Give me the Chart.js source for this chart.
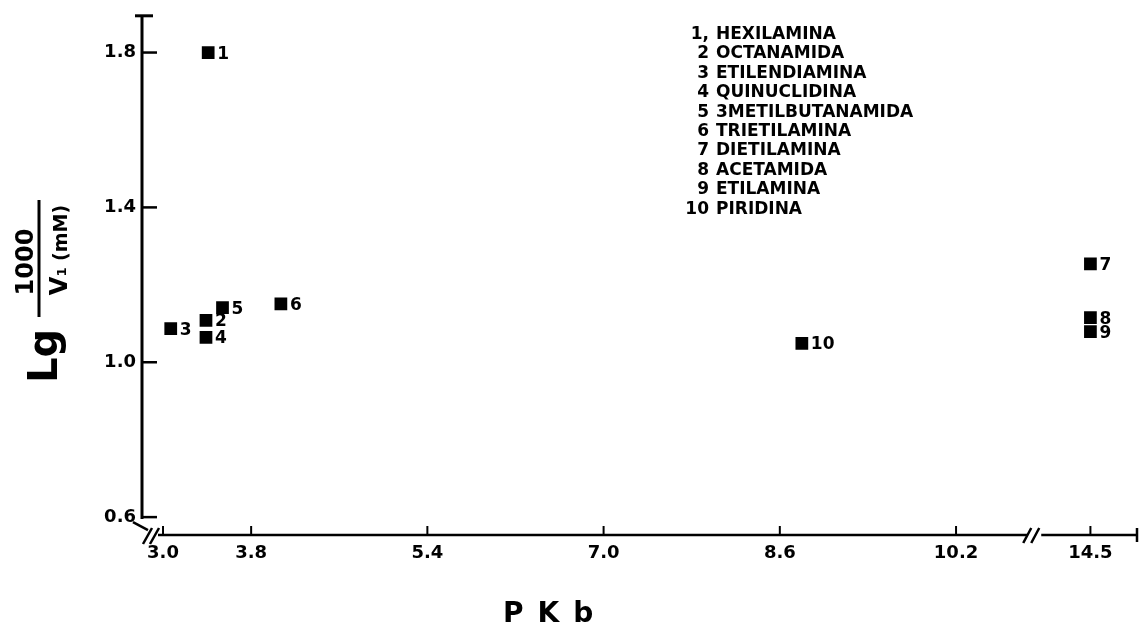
<!DOCTYPE html>
<html>
<head>
<meta charset="utf-8">
<title>Lg 1000/V1 vs PKb</title>
<script src="https://cdn.jsdelivr.net/npm/chart.js@4.4.1/dist/chart.umd.min.js"></script>
<style>
  html, body { margin: 0; padding: 0; background: #ffffff; }
  canvas { display: block; }
</style>
</head>
<body>
<canvas id="chart" width="1140" height="625"></canvas>
<script>
// Compounds: number, name, pKb and Lg(1000/V1)
const compoundNumbers = ['1', '2', '3', '4', '5', '6', '7', '8', '9', '10'];
const compoundNames = [
  'HEXILAMINA', 'OCTANAMIDA', 'ETILENDIAMINA', 'QUINUCLIDINA', '3METILBUTANAMIDA',
  'TRIETILAMINA', 'DIETILAMINA', 'ACETAMIDA', 'ETILAMINA', 'PIRIDINA'
];
const pKbValues = [3.41, 3.39, 3.07, 3.39, 3.54, 4.07, 14.5, 14.5, 14.5, 8.80];
const lgValues  = [1.80, 1.108, 1.087, 1.064, 1.141, 1.151, 1.254, 1.115, 1.079, 1.049];

const xTickValues = [3.0, 3.8, 5.4, 7.0, 8.6, 10.2, 14.5];
const yTickValues = [0.6, 1.0, 1.4, 1.8];

// The pKb axis is broken after 10.2: values beyond the break are pulled left.
const BREAK_AT = 11;
const BREAK_SHIFT = 3.08;
const toAxis = v => (v > BREAK_AT ? v - BREAK_SHIFT : v);

const FONT = "'DejaVu Sans', 'Liberation Sans', sans-serif";
const INK = '#000000';

const points = pKbValues.map((v, i) => ({ x: toAxis(v), y: lgValues[i] }));

function line(ctx, x1, y1, x2, y2, w) {
  ctx.beginPath();
  ctx.lineWidth = w;
  ctx.moveTo(x1, y1);
  ctx.lineTo(x2, y2);
  ctx.stroke();
}

// Draws runs of text along a vertical baseline, reading bottom to top.
function rotatedRuns(ctx, runs, baseX, centerY) {
  ctx.save();
  ctx.translate(baseX, centerY);
  ctx.rotate(-Math.PI / 2);
  ctx.textAlign = 'left';
  ctx.textBaseline = 'alphabetic';
  let total = 0;
  runs.forEach(r => { ctx.font = r.font; r.w = ctx.measureText(r.text).width; total += r.w; });
  let x = -total / 2;
  runs.forEach(r => {
    ctx.font = r.font;
    ctx.fillText(r.text, x, r.dy || 0);
    x += r.w;
  });
  ctx.restore();
}

const decorations = {
  id: 'decorations',
  beforeDatasetsDraw(chart) {
    const ctx = chart.ctx;
    const xs = chart.scales.x;
    const ys = chart.scales.y;
    const area = chart.chartArea;
    const axisX = area.left + 1;
    const axisY = area.bottom;

    ctx.save();
    ctx.strokeStyle = INK;
    ctx.fillStyle = INK;
    ctx.lineCap = 'butt';

    // vertical axis with top cap
    const y06 = ys.getPixelForValue(yTickValues[0]);
    line(ctx, axisX, area.top, axisX, y06 + 2, 3);
    line(ctx, axisX - 7, area.top, axisX + 11, area.top, 3);
    ys.ticks.forEach(t => {
      const py = ys.getPixelForValue(t.value);
      line(ctx, axisX, py, axisX + 15, py, 2.5);
    });

    // break marks at the origin
    line(ctx, axisX - 9, y06 + 5, axisX + 6, y06 + 13, 2.5);
    line(ctx, axisX + 1, axisY + 9, axisX + 10, axisY - 7, 2.5);
    line(ctx, axisX + 8, axisY + 9, axisX + 17, axisY - 7, 2.5);

    // horizontal axis, broken before the last tick
    const breakPx = (xs.getPixelForValue(xTickValues[5]) + xs.getPixelForValue(toAxis(xTickValues[6]))) / 2 + 8;
    line(ctx, axisX + 16, axisY, breakPx - 4, axisY, 2.5);
    line(ctx, breakPx + 10, axisY, area.right - 1, axisY, 2.5);
    line(ctx, breakPx - 8, axisY + 8, breakPx, axisY - 7, 2.5);
    line(ctx, breakPx, axisY + 8, breakPx + 8, axisY - 7, 2.5);
    line(ctx, area.right - 1, axisY - 7, area.right - 1, axisY + 7, 2.5);
    xs.ticks.forEach(t => {
      const px = xs.getPixelForValue(t.value);
      line(ctx, px, axisY, px, axisY - 9, 2);
    });

    // axis titles
    ctx.font = 'bold 28px ' + FONT;
    ctx.textAlign = 'left';
    ctx.textBaseline = 'alphabetic';
    ctx.letterSpacing = '14px';
    ctx.fillText('PKb', 503, 622);
    ctx.letterSpacing = '0px';

    rotatedRuns(ctx, [{ text: 'Lg', font: 'bold 40px ' + FONT }], 57, 356);
    rotatedRuns(ctx, [{ text: '1000', font: 'bold 24px ' + FONT }], 33, 262);
    line(ctx, 39, 200, 39, 317, 3);
    rotatedRuns(ctx, [
      { text: 'V', font: 'bold 24px ' + FONT },
      { text: '1', font: 'bold 13px ' + FONT, dy: -1 },
      { text: ' (mM)', font: 'bold 19px ' + FONT }
    ], 67, 250);

    // compound list
    ctx.font = 'bold 17px ' + FONT;
    compoundNames.forEach((name, i) => {
      const cy = 33 + i * 19.4 + 6;
      ctx.textAlign = 'right';
      ctx.fillText(compoundNumbers[i] + (i === 0 ? ',' : ''), 709, cy);
      ctx.textAlign = 'left';
      ctx.fillText(name, 716, cy);
    });
    ctx.restore();
  },
  afterDatasetsDraw(chart) {
    // number beside each marker
    const ctx = chart.ctx;
    const meta = chart.getDatasetMeta(0);
    ctx.save();
    ctx.fillStyle = INK;
    ctx.font = 'bold 17px ' + FONT;
    ctx.textAlign = 'left';
    ctx.textBaseline = 'alphabetic';
    meta.data.forEach((el, i) => {
      ctx.fillText(compoundNumbers[i], el.x + 9, el.y + 6);
    });
    ctx.restore();
  }
};

new Chart(document.getElementById('chart'), {
  type: 'scatter',
  data: {
    datasets: [{
      data: points,
      pointStyle: 'rect',
      pointRadius: 9,
      pointHoverRadius: 9,
      backgroundColor: INK,
      borderWidth: 0
    }]
  },
  options: {
    responsive: false,
    animation: false,
    devicePixelRatio: 1,
    layout: { autoPadding: false, padding: { top: 12, right: 2, left: 0, bottom: 0 } },
    plugins: { legend: { display: false }, tooltip: { enabled: false } },
    scales: {
      x: {
        type: 'linear',
        min: 2.8,
        max: 11.852,
        afterFit: s => { s.height = 90; },
        afterBuildTicks: s => { s.ticks = xTickValues.map(v => ({ value: toAxis(v) })); },
        grid: { display: false, drawTicks: false },
        border: { display: false },
        ticks: {
          autoSkip: false,
          maxRotation: 0,
          padding: 8,
          color: INK,
          font: { family: FONT, size: 18, weight: 'bold' },
          callback: (value, index) => xTickValues[index].toFixed(1)
        }
      },
      y: {
        type: 'linear',
        min: 0.5538,
        max: 1.8949,
        afterFit: s => { s.width = 141; },
        afterBuildTicks: s => { s.ticks = yTickValues.map(v => ({ value: v })); },
        grid: { display: false, drawTicks: false },
        border: { display: false },
        ticks: {
          padding: 5,
          color: INK,
          font: { family: FONT, size: 18, weight: 'bold' },
          callback: value => value.toFixed(1)
        }
      }
    }
  },
  plugins: [decorations]
});
</script>
</body>
</html>
